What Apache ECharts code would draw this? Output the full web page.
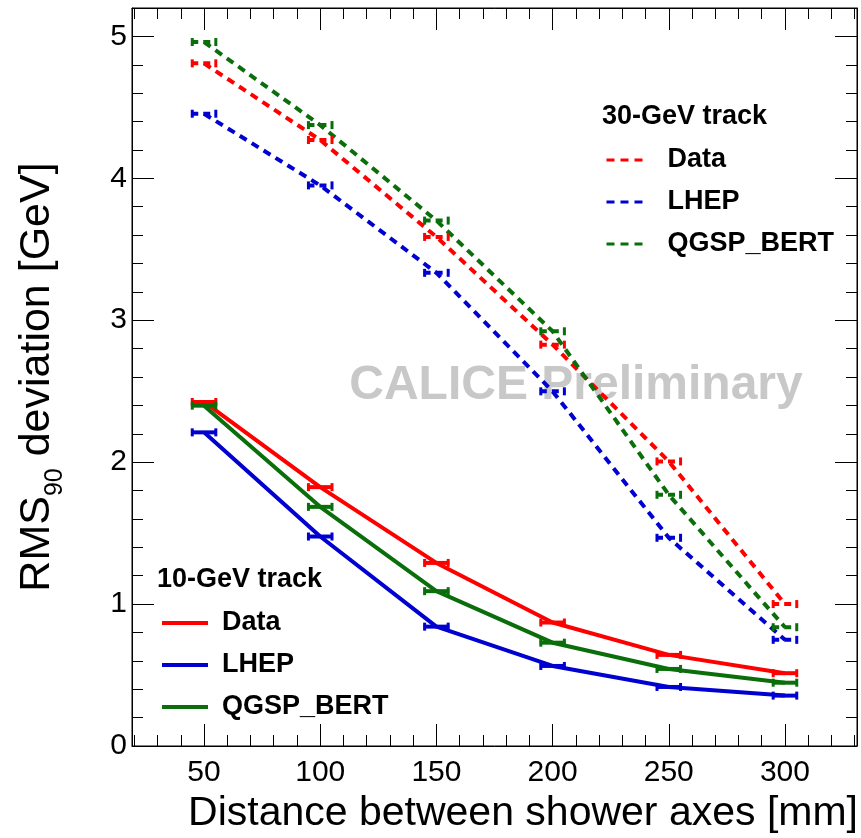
<!DOCTYPE html>
<html>
<head>
<meta charset="utf-8">
<script src="https://cdn.jsdelivr.net/npm/echarts@6/dist/echarts.min.js"></script>
<style>
html,body{margin:0;padding:0;background:#fff;}
#chart{width:861px;height:838px;}
</style>
</head>
<body>
<div id="chart"></div>
<script>
// ---- data ----
const distances = [50, 100, 150, 200, 250, 300];
const data10 = [2.424, 1.824, 1.29, 0.87, 0.642, 0.513];
const lhep10 = [2.21, 1.476, 0.841, 0.564, 0.416, 0.355];
const qgsp10 = [2.398, 1.685, 1.091, 0.728, 0.543, 0.446];
const data30 = [4.81, 4.27, 3.587, 2.828, 2.005, 1.00];
const lhep30 = [4.455, 3.95, 3.334, 2.499, 1.467, 0.748];
const qgsp30 = [4.96, 4.375, 3.702, 2.922, 1.77, 0.837];
const xErr = 5.5;
const seriesNames = ['Data', 'LHEP', 'QGSP_BERT'];
const xMajorTicks = [50, 100, 150, 200, 250, 300];
const xMinorTicks = [20,30,40,60,70,80,90,110,120,130,140,160,170,180,190,210,220,230,240,260,270,280,290,310,320,330];
const yMajorTicks = [0, 1, 2, 3, 4, 5];
const yMinorTicks = [0.2,0.4,0.6,0.8,1.2,1.4,1.6,1.8,2.2,2.4,2.6,2.8,3.2,3.4,3.6,3.8,4.2,4.4,4.6,4.8,5.2];

const FONT = "'Liberation Sans', Arial, Helvetica, sans-serif";
const RED = '#ff0000', BLUE = '#0000d0', GREEN = '#0a6e0a';
const colors = [RED, BLUE, GREEN];
const DASH = [8, 6];

function pairs(vals){ return distances.map((d,i)=>[d, vals[i]]); }

const groups = [
  {suffix:' (10 GeV)', vals:[data10, lhep10, qgsp10], dashed:false},
  {suffix:' (30 GeV)', vals:[data30, lhep30, qgsp30], dashed:true}
];

const series = [];
groups.forEach(g=>{
  g.vals.forEach((v,i)=>{
    const ls = {color: colors[i], width: 4, type: g.dashed ? DASH : 'solid'};
    series.push({
      name: seriesNames[i] + g.suffix,
      type: 'line',
      data: pairs(v),
      symbol: 'none',
      color: colors[i],
      lineStyle: ls,
      z: 3,
      animation: false
    });
    series.push({
      name: 'err ' + seriesNames[i] + g.suffix,
      type: 'custom',
      data: pairs(v),
      z: 4,
      animation: false,
      renderItem: function(params, api){
        const x = api.value(0), y = api.value(1);
        const p1 = api.coord([x - xErr, y]);
        const p2 = api.coord([x + xErr, y]);
        const st = {stroke: colors[i], lineWidth: 4, lineDash: g.dashed ? [7,5] : null};
        const st2 = {stroke: colors[i], lineWidth: 3};
        return {type:'group', children:[
          {type:'line', shape:{x1:p1[0], y1:p1[1], x2:p2[0], y2:p2[1]}, style: st},
          {type:'line', shape:{x1:p1[0]+1, y1:p1[1]-4, x2:p1[0]+1, y2:p1[1]+4}, style: st2},
          {type:'line', shape:{x1:p2[0]-1, y1:p2[1]-4, x2:p2[0]-1, y2:p2[1]+4}, style: st2}
        ]};
      }
    });
  });
});

function xAx(pos, ticks, len, labels, extra){
  return Object.assign({
    type:'value', min:19, max:331, position:pos,
    axisLine:{show: labels !== null || len > 15, onZero:false, lineStyle:{color:'#000', width:1}},
    axisTick:{show:true, inside:true, length:len, customValues:ticks, lineStyle:{color:'#000', width:1}},
    axisLabel: labels ? {show:true, customValues:labels, fontSize:30, fontFamily:FONT, color:'#000', margin:12} : {show:false},
    splitLine:{show:false}
  }, extra||{});
}
function yAx(pos, ticks, len, labels, extra){
  return Object.assign({
    type:'value', min:0, max:5.2, position:pos,
    axisLine:{show: labels !== null || len > 15, onZero:false, lineStyle:{color:'#000', width:1}},
    axisTick:{show:true, inside:true, length:len, customValues:ticks, lineStyle:{color:'#000', width:1}},
    axisLabel: labels ? {show:true, customValues:labels, fontSize:30, fontFamily:FONT, color:'#000', margin:5} : {show:false},
    splitLine:{show:false}
  }, extra||{});
}

const legendCommon = {
  orient:'vertical', padding:0, itemGap:12, itemHeight:14, selectedMode:false,
  formatter: n => n.replace(/ \(\d+ GeV\)$/, ''),
  itemStyle:{color:'transparent', borderColor:'transparent', borderWidth:0, opacity:0}
};

const option = {
  backgroundColor:'#fff',
  animation:false,
  grid:{left:132, right:4, top:8, bottom:92, containLabel:false, outerBoundsMode:'none',
        show:true, borderColor:'#000', borderWidth:1, backgroundColor:'transparent'},
  xAxis:[
    xAx('bottom', xMajorTicks, 22, xMajorTicks, {
      name:'Distance between shower axes [mm]', nameLocation:'middle', nameGap:46,
      nameTextStyle:{fontSize:41, fontFamily:FONT, color:'#000', lineHeight:41, padding:[0,0,0,57]}
    }),
    xAx('bottom', xMinorTicks, 11, null),
    xAx('top', xMajorTicks, 22, null),
    xAx('top', xMinorTicks, 11, null)
  ],
  yAxis:[
    yAx('left', yMajorTicks, 22, yMajorTicks, {
      name:'{a|RMS}{s|90}{a| deviation [GeV]}', nameLocation:'middle', nameGap:73,
      nameTextStyle:{fontFamily:FONT, color:'#000', rich:{
        a:{fontSize:43, lineHeight:43, fontFamily:FONT, color:'#000', verticalAlign:'top'},
        s:{fontSize:25, lineHeight:25, fontFamily:FONT, color:'#000', verticalAlign:'top', padding:[27,0,0,0]}
      }}
    }),
    yAx('left', yMinorTicks, 11, null),
    yAx('right', yMajorTicks, 22, null),
    yAx('right', yMinorTicks, 11, null)
  ],
  legend:[
    Object.assign({}, legendCommon, {
      left:160, top:608, itemWidth:46,
      data: seriesNames.map(n=>n+' (10 GeV)'),
      lineStyle:{width:4},
      textStyle:{fontSize:27, fontWeight:'bold', fontFamily:FONT, color:'#000', lineHeight:30, padding:[0,0,0,9]}
    }),
    Object.assign({}, legendCommon, {
      left:605, top:145, itemWidth:40,
      data: seriesNames.map(n=>n+' (30 GeV)'),
      lineStyle:{width:3},
      textStyle:{fontSize:27, fontWeight:'bold', fontFamily:FONT, color:'#000', lineHeight:30, padding:[0,0,0,16]}
    })
  ],
  graphic:[
    {type:'text', left:157, top:566, z:10, style:{text:'10-GeV track', font:'bold 27px '+FONT, fill:'#000'}},
    {type:'text', left:602, top:103, z:10, style:{text:'30-GeV track', font:'bold 27px '+FONT, fill:'#000'}},
    {type:'text', x:576, y:386, z:0, style:{text:'CALICE Preliminary', font:'bold 48px '+FONT, fill:'#c8c8c8', textAlign:'center', textVerticalAlign:'middle'}}
  ],
  series: series
};

const chart = echarts.init(document.getElementById('chart'), null, {renderer:'canvas'});
chart.setOption(option);
</script>
</body>
</html>
